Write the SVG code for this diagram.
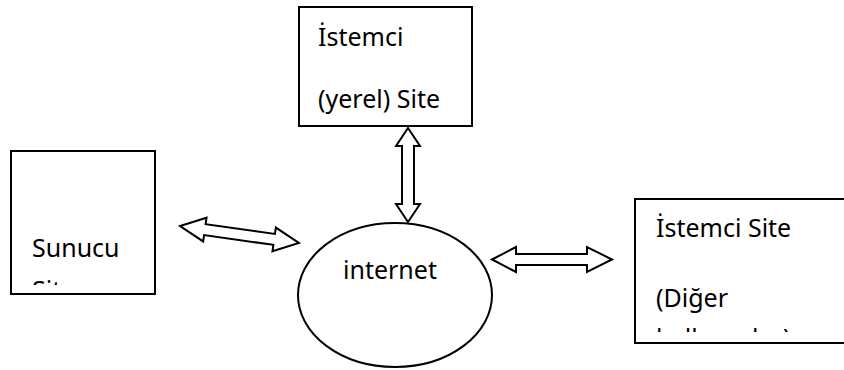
<svg xmlns="http://www.w3.org/2000/svg" width="844" height="370" viewBox="0 0 844 370">
<style>
.box{fill:#fff;stroke:#000;stroke-width:2}
.arr{fill:#fff;stroke:#000;stroke-width:2;stroke-linejoin:miter}
.t{font-family:"Noto Sans","Open Sans",sans-serif;font-size:25px;fill:#000}
</style>
<defs>
<clipPath id="clipL"><rect x="12" y="152" width="142" height="133"/></clipPath>
<clipPath id="clipR"><rect x="636" y="200" width="208" height="132"/></clipPath>
</defs>
<rect width="844" height="370" fill="#fff"/>
<g id="sunucu">
<rect class="box" x="11" y="151" width="144" height="143"/>
<g clip-path="url(#clipL)">
<text class="t" x="32" y="257">Sunucu</text>
<text class="t" x="32" y="299">Site</text>
</g>
</g>
<g id="istemci-yerel">
<rect class="box" x="299" y="7" width="173" height="119"/>
<text class="t" x="318" y="46">İstemci</text>
<text class="t" x="318" y="108">(yerel) Site</text>
</g>
<g id="istemci-diger">
<rect class="box" x="635" y="199" width="220" height="144"/>
<g clip-path="url(#clipR)">
<text class="t" x="656" y="237">İstemci Site</text>
<text class="t" x="656" y="307">(Diğer</text>
<text class="t" x="656" y="347">kullanıcılar)</text>
</g>
</g>
<g id="internet">
<ellipse class="box" cx="395" cy="295" rx="97" ry="72"/>
<text class="t" x="343" y="279">internet</text>
</g>
<g id="connectors">
<polygon class="arr" transform="translate(239.5 234.5) rotate(8.1)" points="-60,0 -35,-12 -35,-5.5 35,-5.5 35,-12 60,0 35,12 35,5.5 -35,5.5 -35,12"/>
<polygon class="arr" points="408,128 420,146 414,146 414,204 420,204 408,222 396,204 402,204 402,146 396,146"/>
<polygon class="arr" points="492,259.5 516,247 516,254 587,254 587,247 612,259.5 587,272 587,265 516,265 516,272"/>
</g>
</svg>
